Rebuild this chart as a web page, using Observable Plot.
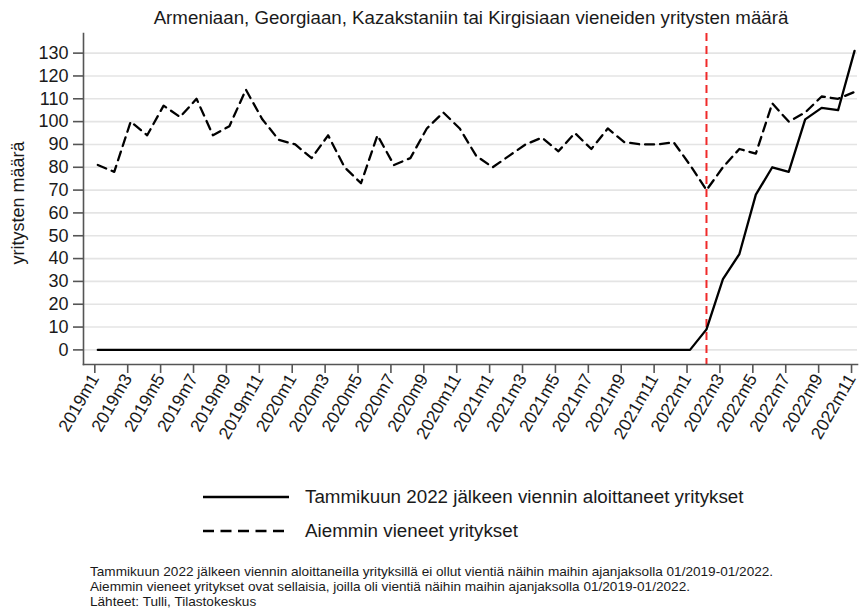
<!DOCTYPE html>
<html>
<head>
<meta charset="utf-8">
<script src="https://cdn.jsdelivr.net/npm/d3@7"></script>
<script src="https://cdn.jsdelivr.net/npm/@observablehq/plot@0.6"></script>
<style>
  html, body { margin: 0; padding: 0; background: #fff; }
  body { width: 859px; height: 608px; overflow: hidden; font-family: Arial, "Liberation Sans", sans-serif; color: #1a1a1a; }
  #title { height: 30px; box-sizing: border-box; padding-top: 7px; line-height: 22px; font-size: 18.7px; padding-left: 83px; width: 859px; text-align: center; white-space: nowrap; }
  #chart svg { display: block; }
  #legend { margin-top: 10px; }
  .row { height: 34px; display: flex; align-items: center; }
  .row svg { margin-left: 203px; display: block; }
  .row span { margin-left: 16px; font-size: 18.8px; white-space: nowrap; }
  #notes { margin-top: 16px; padding-left: 90px; font-size: 13.6px; line-height: 15px; white-space: nowrap; }
</style>
</head>
<body>
<div id="title"></div>
<div id="chart"></div>
<div id="legend"></div>
<div id="notes"></div>
<script>
const titleText = "Armeniaan, Georgiaan, Kazakstaniin tai Kirgisiaan vieneiden yritysten määrä";
const yLabel = "yritysten määrä";
const months = [
  "2019m1","2019m2","2019m3","2019m4","2019m5","2019m6","2019m7","2019m8","2019m9","2019m10","2019m11","2019m12",
  "2020m1","2020m2","2020m3","2020m4","2020m5","2020m6","2020m7","2020m8","2020m9","2020m10","2020m11","2020m12",
  "2021m1","2021m2","2021m3","2021m4","2021m5","2021m6","2021m7","2021m8","2021m9","2021m10","2021m11","2021m12",
  "2022m1","2022m2","2022m3","2022m4","2022m5","2022m6","2022m7","2022m8","2022m9","2022m10","2022m11"
];
const newExporters = [
  0,0,0,0,0,0,0,0,0,0,0,0,
  0,0,0,0,0,0,0,0,0,0,0,0,
  0,0,0,0,0,0,0,0,0,0,0,0,
  0,9,31,42,68,80,78,101,106,105,131
];
const earlierExporters = [
  81,78,100,94,107,102,110,94,98,114,101,92,
  90,84,94,80,73,94,81,84,97,104,97,85,
  80,85,90,93,87,95,88,97,91,90,90,91,
  81,70,80,88,86,108,100,104,111,110,113
];
const yTicks = [0,10,20,30,40,50,60,70,80,90,100,110,120,130];
const xTickLabels = ["2019m1","2019m3","2019m5","2019m7","2019m9","2019m11","2020m1","2020m3","2020m5","2020m7","2020m9","2020m11",
  "2021m1","2021m3","2021m5","2021m7","2021m9","2021m11","2022m1","2022m3","2022m5","2022m7","2022m9","2022m11"];
const eventMonth = "2022m2";
const seriesNames = ["Tammikuun 2022 jälkeen viennin aloittaneet yritykset", "Aiemmin vieneet yritykset"];
const notes = [
  "Tammikuun 2022 jälkeen viennin aloittaneilla yrityksillä ei ollut vientiä näihin maihin ajanjaksolla 01/2019-01/2022.",
  "Aiemmin vieneet yritykset ovat sellaisia, joilla oli vientiä näihin maihin ajanjaksolla 01/2019-01/2022.",
  "Lähteet: Tulli, Tilastokeskus"
];

const solidData = newExporters.map((v, i) => ({i, v}));
const dashData = earlierExporters.map((v, i) => ({i, v}));
const xTicks = xTickLabels.map(m => months.indexOf(m));
const eventIdx = months.indexOf(eventMonth);
const axisColor = "#555";
const dash = "9,6";

document.getElementById("title").textContent = titleText;

const chart = Plot.plot({
  width: 859,
  height: 440,
  marginTop: 3,
  marginBottom: 106,
  marginLeft: 83,
  marginRight: 2,
  style: {fontFamily: "Arial, 'Liberation Sans', sans-serif", color: "#1a1a1a", background: "white", overflow: "visible"},
  x: {domain: [-0.87, 46.18]},
  y: {domain: [-6.4, 138.6]},
  marks: [
    Plot.gridY(yTicks, {stroke: "#e4e4e4", strokeOpacity: 1, strokeWidth: 1.6}),
    Plot.ruleX([eventIdx], {stroke: "#f02a2a", strokeWidth: 2, strokeDasharray: "8,5"}),
    Plot.line(dashData, {x: "i", y: "v", stroke: "black", strokeWidth: 2.3, strokeDasharray: dash}),
    Plot.line(solidData, {x: "i", y: "v", stroke: "black", strokeWidth: 2.3}),
    Plot.frame({anchor: "left", stroke: axisColor, strokeWidth: 1.6}),
    Plot.frame({anchor: "bottom", stroke: axisColor, strokeWidth: 1.6}),
    Plot.axisY({ticks: yTicks, tickSize: 10, tickPadding: 5, fontSize: 18, label: null, stroke: axisColor, strokeWidth: 1.6}),
    Plot.axisX({ticks: xTicks, tickFormat: i => months[i], tickRotate: -60, tickSize: 9, tickPadding: 2, fontSize: 17.5, label: null, stroke: axisColor, strokeWidth: 1.6, dx: -3}),
    Plot.text([yLabel], {frameAnchor: "left", rotate: -90, dx: -65, dy: 4, textAnchor: "middle", fontSize: 18})
  ]
});
document.getElementById("chart").appendChild(chart);

const legend = document.getElementById("legend");
seriesNames.forEach((name, k) => {
  const row = document.createElement("div");
  row.className = "row";
  row.innerHTML = `<svg width="86" height="34"><line x1="0" x2="86" y1="17" y2="17" stroke="black" stroke-width="2.3" ${k === 1 ? 'stroke-dasharray="11,6.5"' : ""}/></svg><span></span>`;
  row.querySelector("span").textContent = name;
  legend.appendChild(row);
});
const notesDiv = document.getElementById("notes");
notes.forEach(n => { const d = document.createElement("div"); d.textContent = n; notesDiv.appendChild(d); });
</script>
</body>
</html>
